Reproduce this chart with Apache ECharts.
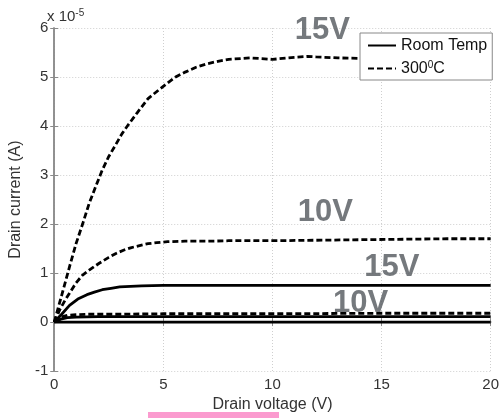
<!DOCTYPE html>
<html><head><meta charset="utf-8">
<script src="https://cdn.jsdelivr.net/npm/echarts@6/dist/echarts.min.js"></script>
<style>html,body{margin:0;padding:0;background:#fff}#c{width:502px;height:418px}</style>
</head><body><div id="c"></div>
<script>
// Drain voltage (V) / Drain current (x1e-5 A)
const vd300_15 = [0, 0.2, 0.4, 0.72, 1.0, 1.3, 1.6, 1.93, 2.2, 2.5, 2.83, 3.1, 3.4, 3.8, 4.3, 4.8, 5.2, 5.56, 6.0, 6.5, 7.0, 7.5, 8.0, 9.0, 10, 11, 11.6, 12, 13, 14, 15, 16, 17, 18, 19, 20];
const id300_15 = [0, 0.32, 0.64, 1.16, 1.6, 2.0, 2.42, 2.8, 3.1, 3.38, 3.63, 3.84, 4.03, 4.27, 4.56, 4.74, 4.88, 5.0, 5.1, 5.2, 5.27, 5.32, 5.36, 5.39, 5.36, 5.4, 5.42, 5.41, 5.39, 5.38, 5.38, 5.38, 5.37, 5.38, 5.38, 5.37];
const vd300_10 = [0, 0.25, 0.5, 1.0, 1.3, 1.6, 2.06, 2.5, 2.83, 3.2, 3.54, 4.0, 4.3, 4.7, 5.2, 6.0, 7.0, 8, 10, 12, 14, 16, 18, 20];
const id300_10 = [0, 0.25, 0.45, 0.8, 0.96, 1.06, 1.2, 1.32, 1.4, 1.47, 1.52, 1.57, 1.6, 1.62, 1.64, 1.65, 1.65, 1.66, 1.66, 1.67, 1.68, 1.69, 1.7, 1.7];
const vdRT_15 = [0, 0.34, 0.7, 1.08, 1.5, 1.84, 2.2, 2.6, 3.0, 3.5, 4.0, 5.0, 6, 8, 10, 12, 14, 16, 18, 20];
const idRT_15 = [0, 0.16, 0.34, 0.47, 0.56, 0.61, 0.66, 0.69, 0.72, 0.73, 0.74, 0.75, 0.75, 0.75, 0.75, 0.75, 0.75, 0.75, 0.75, 0.75];
const vd300_low = [0, 0.3, 0.6, 1, 1.5, 2, 3, 5, 10, 15, 20];
const id300_low = [0, 0.1, 0.14, 0.15, 0.16, 0.16, 0.16, 0.17, 0.17, 0.18, 0.18];
const vdRT_10 = [0, 0.3, 0.6, 1, 2, 3, 5, 10, 15, 20];
const idRT_10 = [0, 0.06, 0.09, 0.1, 0.11, 0.11, 0.11, 0.11, 0.11, 0.11];
const vdRT_low = [0, 20];
const idRT_low = [0, 0];
const xTicks = [0, 5, 10, 15, 20];
const yTicks = [-1, 0, 1, 2, 3, 4, 5, 6];
const annotX = [12.29, 12.42, 15.47, 14.04];
const annotY = [5.94, 2.23, 1.11, 0.37];
const annotText = ['15V', '10V', '15V', '10V'];
const legendNames = ['Room Temp', '300⁰C'];

const zip = (xs, ys) => xs.map((x, i) => [x, ys[i]]);
const FONT = "'Liberation Sans', Arial, sans-serif";
const solid = {color: '#000', width: 2.8, type: 'solid'};
const dashed = {color: '#000', width: 2.8, type: [6, 3]};
function line(name, xs, ys, style, z) {
  return {type: 'line', name: name, data: zip(xs, ys), showSymbol: false, symbol: 'none',
    lineStyle: style, itemStyle: {color: '#000'}, smooth: false, z: z || 2, silent: true, animation: false};
}
const chart = echarts.init(document.getElementById('c'), null, {renderer: 'canvas'});
const axisCommon = {
  type: 'value', axisLine: {show: true, lineStyle: {color: '#8a8a8a', width: 1.5}},
  axisTick: {show: true, inside: true, length: 4, lineStyle: {color: '#8a8a8a'}},
};
chart.setOption({
  animation: false,
  backgroundColor: '#fff',
  grid: {left: 49, top: 28, right: 7, bottom: 39, containLabel: false},
  xAxis: [
    Object.assign({}, axisCommon, {min: 0, max: 20, interval: 5, position: 'bottom',
      axisLabel: {fontSize: 15, color: '#333', fontFamily: FONT, margin: 6,
        formatter: v => xTicks.includes(v) ? String(v) : ''},
      splitLine: {show: true, lineStyle: {color: '#cfcfcf', type: [1, 2], width: 1}},
      name: 'Drain voltage (V)', nameLocation: 'middle', nameGap: 21,
      nameTextStyle: {fontSize: 16, color: '#333', fontFamily: FONT}}),
    Object.assign({}, axisCommon, {min: 0, max: 20, interval: 5, position: 'top',
      axisLabel: {show: false}, splitLine: {show: false}})
  ],
  yAxis: [
    Object.assign({}, axisCommon, {min: -1, max: 6, interval: 1, position: 'left',
      axisLabel: {fontSize: 15, color: '#333', fontFamily: FONT, margin: 6,
        formatter: v => yTicks.includes(v) ? String(v) : ''},
      splitLine: {show: true, lineStyle: {color: '#cfcfcf', type: [1, 2], width: 1}},
      name: 'Drain current (A)', nameLocation: 'middle', nameGap: 19,
      nameTextStyle: {fontSize: 16, color: '#333', fontFamily: FONT}}),
    Object.assign({}, axisCommon, {min: -1, max: 6, interval: 1, position: 'right',
      axisLabel: {show: false}, splitLine: {show: false}})
  ],
  legend: {
    data: legendNames, orient: 'vertical', left: 360, top: 33,
    backgroundColor: '#fff', borderColor: '#888', borderWidth: 1, borderRadius: 0,
    padding: [4, 5, 3, 7], itemGap: 6, itemWidth: 28, itemHeight: 14,
    itemStyle: {opacity: 0},
    textStyle: {fontSize: 16, color: '#111', fontFamily: FONT, lineHeight: 17,
      rich: {sup: {fontSize: 10, verticalAlign: 'top', lineHeight: 10, padding: [0, 0, 6, 0], fontFamily: FONT, color: '#111'}}},
    formatter: n => n === '300⁰C' ? '300{sup|0}C' : n,
    selectedMode: false, z: 10
  },
  graphic: [
    {type: 'text', left: 47, top: 8, style: {text: 'x 10{s|-5}', fill: '#333', font: '15px ' + FONT,
      rich: {s: {fontSize: 10, verticalAlign: 'top', padding: [0, 0, 8, 0], fill: '#333', fontFamily: FONT}}}},
    {type: 'rect', shape: {x: 148, y: 412, width: 131, height: 6}, style: {fill: '#fb9bcf'}, z: 100}
  ],
  series: [
    line('Room Temp', vdRT_15, idRT_15, solid),
    line('300⁰C', vd300_15, id300_15, dashed),
    line('300⁰C', vd300_10, id300_10, dashed),
    line('300⁰C', vd300_low, id300_low, dashed),
    line('Room Temp', vdRT_10, idRT_10, solid),
    line('Room Temp', vdRT_low, idRT_low, solid),
    {type: 'scatter', name: 'labels', data: zip(annotX, annotY).map((p, i) => ({value: p, name: annotText[i]})),
      symbolSize: 0, silent: true, z: 5, clip: false,
      label: {show: true, position: 'inside', formatter: p => p.name, fontSize: 31, fontWeight: 'bold',
        color: '#52575c', fontFamily: FONT}}
  ]
});
</script></body></html>
